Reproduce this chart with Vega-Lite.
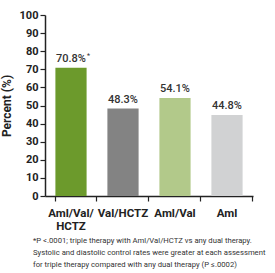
{
  "$schema": "https://vega.github.io/schema/vega-lite/v6.json",
  "autosize": "none",
  "width": 208,
  "height": 181,
  "padding": {"left": 45, "top": 15, "right": 22, "bottom": 77},
  "background": "white",
  "config": {
    "view": {"stroke": null},
    "font": "Roboto, sans-serif"
  },
  "title": {
    "text": ["*P <.0001; triple therapy with Aml/Val/HCTZ vs any dual therapy.", "Systolic and diastolic control rates were greater at each assessment", "for triple therapy compared with any dual therapy (P \u2264.0002)"],
    "orient": "bottom",
    "anchor": "start",
    "frame": "group",
    "dx": -12,
    "offset": 5,
    "fontSize": 7.7,
    "fontWeight": "normal",
    "lineHeight": 12,
    "color": "#333333",
    "font": "Roboto, sans-serif"
  },
  "data": {
    "values": [
      {"therapy": "Aml/Val/|HCTZ", "percent": 70.8, "label": "70.8%", "note": "*"},
      {"therapy": "Val/HCTZ", "percent": 48.3, "label": "48.3%", "note": ""},
      {"therapy": "Aml/Val", "percent": 54.1, "label": "54.1%", "note": ""},
      {"therapy": "Aml", "percent": 44.8, "label": "44.8%", "note": ""}
    ]
  },
  "encoding": {
    "x": {
      "field": "therapy",
      "type": "nominal",
      "sort": null,
      "scale": {"paddingInner": 0.4, "paddingOuter": 0.2},
      "axis": {
        "title": null,
        "labelAngle": 0,
        "labelExpr": "split(datum.label, '|')",
        "labelFontWeight": "bold",
        "labelFontSize": 11.5,
        "labelColor": "#222222",
        "labelPadding": 6,
        "labelLineHeight": 13,
        "bandPosition": 1.3333,
        "tickExtra": true,
        "tickSize": 5,
        "tickColor": "#222222",
        "domainColor": "#222222",
        "domainWidth": 1.5,
        "tickWidth": 1.2
      }
    },
    "y": {
      "field": "percent",
      "type": "quantitative",
      "scale": {"domain": [0, 100], "nice": false},
      "axis": {
        "title": "Percent (%)",
        "titleFontSize": 12,
        "titleFontWeight": "bold",
        "titleColor": "#222222",
        "titlePadding": 6,
        "values": [0, 10, 20, 30, 40, 50, 60, 70, 80, 90, 100],
        "grid": false,
        "labelFontWeight": "bold",
        "labelFontSize": 11,
        "labelColor": "#222222",
        "labelPadding": 2,
        "tickSize": 5,
        "tickColor": "#222222",
        "tickWidth": 1.2,
        "domainColor": "#222222",
        "domainWidth": 1.5
      }
    }
  },
  "layer": [
    {
      "mark": {"type": "bar"},
      "encoding": {
        "color": {
          "field": "therapy",
          "type": "nominal",
          "sort": null,
          "scale": {
            "domain": ["Aml/Val/|HCTZ", "Val/HCTZ", "Aml/Val", "Aml"],
            "range": ["#6c9a2c", "#838383", "#b2c98a", "#d1d2d3"]
          },
          "legend": null
        }
      }
    },
    {
      "mark": {"type": "text", "baseline": "bottom", "dy": -4, "fontSize": 11, "fontWeight": 500, "color": "#333333"},
      "encoding": {"text": {"field": "label"}}
    },
    {
      "mark": {"type": "text", "baseline": "bottom", "align": "left", "dx": 16, "dy": -9, "fontSize": 7, "color": "#333333"},
      "encoding": {"text": {"field": "note"}}
    }
  ]
}
